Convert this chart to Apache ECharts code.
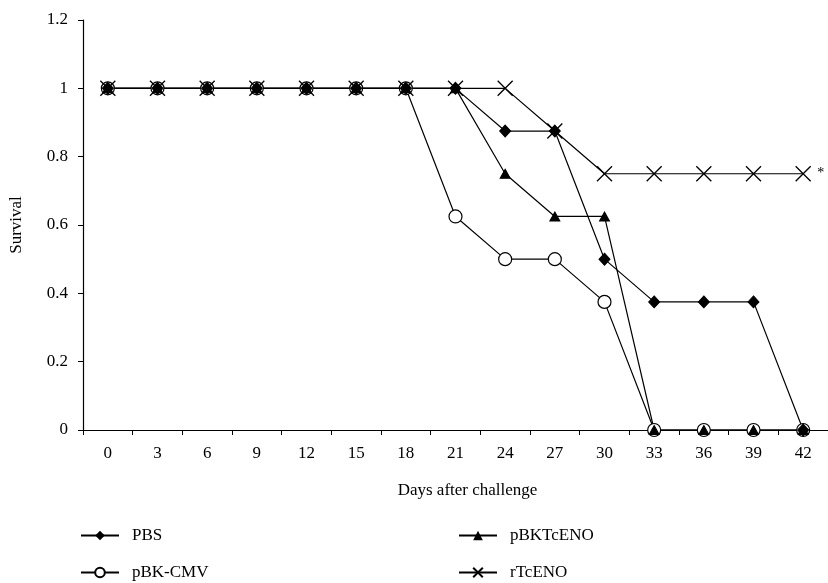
<!DOCTYPE html>
<html><head><meta charset="utf-8">
<script src="https://cdn.jsdelivr.net/npm/echarts@6/dist/echarts.min.js"></script>
<style>html,body{margin:0;padding:0;background:#fff}#c{width:828px;height:583px}</style>
</head><body><div id="c"></div>
<script>
const days = ['0','3','6','9','12','15','18','21','24','27','30','33','36','39','42'];
const pbs      = [1,1,1,1,1,1,1,1,0.875,0.875,0.5,0.375,0.375,0.375,0];
const pbkTcEno = [1,1,1,1,1,1,1,1,0.75,0.625,0.625,0,0,0,0];
const pbkCmv   = [1,1,1,1,1,1,1,0.625,0.5,0.5,0.375,0,0,0,0];
const rTcEno   = [1,1,1,1,1,1,1,1,1,0.875,0.75,0.75,0.75,0.75,0.75];
const yTicks = [0,0.2,0.4,0.6,0.8,1,1.2];

const FONT = 'Liberation Serif';
const FS = 17;
const base = {type:'line', color:'#000', lineStyle:{color:'#000', width:1.2}, animation:false,
  itemStyle:{color:'#000', borderColor:'#000'}, z:2};
const leg = (name, left, top) => ({data:[name], left, top, padding:0, itemWidth:38, itemHeight:12, itemGap:0,
  textStyle:{fontFamily:FONT, fontSize:FS, color:'#000', padding:[0,0,0,8]}});
const chart = echarts.init(document.getElementById('c'));
chart.setOption({
  backgroundColor:'#fff',
  textStyle:{fontFamily:FONT, color:'#000'},
  grid:{left:82, top:20, right:-4, height:410, containLabel:false},
  xAxis:{type:'category', data:days, boundaryGap:true,
    name:'Days after challenge', nameLocation:'middle', nameGap:52,
    nameTextStyle:{fontFamily:FONT, fontSize:FS, color:'#000', padding:[0,0,0,24]},
    axisLine:{lineStyle:{color:'#000', width:1.2}},
    axisTick:{show:true, length:5, alignWithLabel:false, lineStyle:{color:'#000'}},
    axisLabel:{fontFamily:FONT, fontSize:FS, color:'#000', margin:15}},
  yAxis:{type:'value', min:0, max:1.2, interval:0.2,
    name:'Survival', nameLocation:'middle', nameGap:58, nameRotate:90,
    nameTextStyle:{fontFamily:FONT, fontSize:FS, color:'#000'},
    axisLine:{show:true, lineStyle:{color:'#000', width:1.2}},
    axisTick:{show:true, length:5, lineStyle:{color:'#000'}},
    splitLine:{show:false},
    axisLabel:{fontFamily:FONT, fontSize:FS, color:'#000', margin:15,
      formatter:v=>{const t=yTicks.find(x=>Math.abs(x-v)<1e-9); return t===undefined?'':String(t);}}},
  legend:[
    leg('PBS', 80, 527), leg('pBK-CMV', 80, 564),
    leg('pBKTcENO', 458, 527), leg('rTcENO', 458, 564)
  ],
  series:[
    Object.assign({}, base, {name:'pBK-CMV', data:pbkCmv, symbol:'circle', symbolSize:13,
      itemStyle:{color:'#fff', borderColor:'#000', borderWidth:1.2}}),
    Object.assign({}, base, {name:'PBS', data:pbs, symbol:'diamond', symbolSize:[11,12]}),
    Object.assign({}, base, {name:'pBKTcENO', data:pbkTcEno, symbol:'triangle', symbolSize:[10,9]}),
    Object.assign({}, base, {name:'rTcENO', data:rTcEno, symbol:'path://M0,0L10,10M10,0L0,10', symbolSize:15,
      itemStyle:{color:'none', borderColor:'#000', borderWidth:1.3},
      endLabel:{show:true, formatter:'*', fontFamily:FONT, fontSize:14, color:'#000', distance:14}})
  ]
});
</script></body></html>
